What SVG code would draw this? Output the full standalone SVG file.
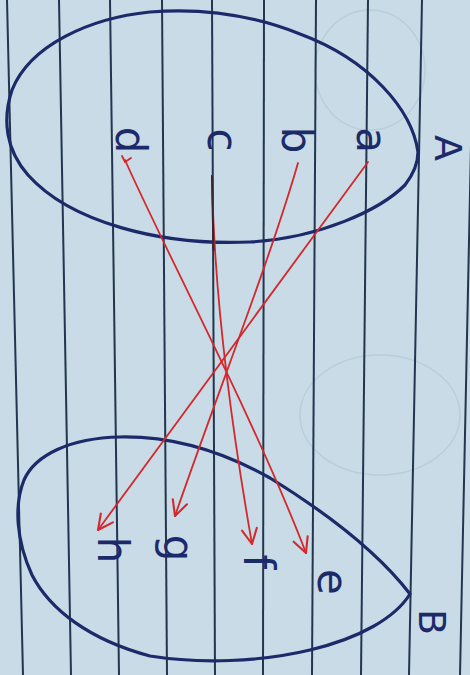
<svg xmlns="http://www.w3.org/2000/svg" width="470" height="675" viewBox="0 0 470 675">
  <style>
    .rule { stroke: #22364f; stroke-width: 2; fill: none; }
    .ghost { stroke: #a9bccb; stroke-width: 1.5; fill: none; opacity: 0.45; }
    .set { stroke: #1c2a6a; stroke-width: 3.2; fill: none; stroke-linecap: round; stroke-linejoin: round; }
    .lbl { font-family: "DejaVu Sans", "Liberation Sans", sans-serif; font-size: 42px; fill: #1c2a6a; text-anchor: middle; dominant-baseline: central; }
    .cap { font-size: 38px; }
    .edge { stroke: #d3282c; stroke-width: 1.8; fill: none; stroke-linecap: round; }
  </style>
  <defs>
    <marker id="arrow" viewBox="0 0 12 12" refX="11" refY="6" markerWidth="18" markerHeight="18" markerUnits="userSpaceOnUse" orient="auto">
      <path d="M1,1 L11,6 L1,11" fill="none" stroke="#d3282c" stroke-width="1.4" stroke-linecap="round" stroke-linejoin="round"/>
    </marker>
  </defs>

  <rect width="470" height="675" fill="#c8dbe6"/>

  <g id="paper">
    <ellipse class="ghost" cx="380" cy="415" rx="80" ry="60"/>
    <ellipse class="ghost" cx="370" cy="70" rx="55" ry="60"/>
    <line class="rule" x1="7" y1="0" x2="23" y2="675"/>
    <line class="rule" x1="59" y1="0" x2="71" y2="675"/>
    <line class="rule" x1="110" y1="0" x2="119" y2="675"/>
    <line class="rule" x1="162" y1="0" x2="167" y2="675"/>
    <line class="rule" x1="212" y1="0" x2="215" y2="675"/>
    <line class="rule" x1="264" y1="0" x2="263" y2="675"/>
    <line class="rule" x1="316" y1="0" x2="312" y2="675"/>
    <line class="rule" x1="368" y1="0" x2="361" y2="675"/>
    <line class="rule" x1="422" y1="0" x2="409" y2="675"/>
    <line class="rule" x1="474" y1="0" x2="460" y2="675"/>
  </g>

  <g id="setA">
    <path class="set" d="M418,152 C412,110 370,60 300,34 C250,14 200,8 150,12 C90,18 30,45 12,90 C2,120 6,150 28,175 C70,222 160,246 250,242 C320,238 380,210 405,185 C415,172 418,160 418,152 Z"/>
    <text class="lbl" transform="rotate(90 130 140)" x="130" y="140">d</text>
    <text class="lbl" transform="rotate(90 222 140)" x="222" y="140">c</text>
    <text class="lbl" transform="rotate(90 296 140)" x="296" y="140">b</text>
    <text class="lbl" transform="rotate(90 371 140)" x="371" y="140">a</text>
    <text class="lbl cap" transform="rotate(90 448 148)" x="448" y="148">A</text>
  </g>

  <g id="setB">
    <path class="set" d="M410,594 C380,555 330,515 270,478 C220,450 170,436 120,437 C70,438 35,455 24,480 C14,505 16,540 32,575 C50,610 90,640 150,656 C200,664 260,662 310,650 C360,638 395,618 410,594 Z"/>
    <text class="lbl" transform="rotate(90 112 550)" x="112" y="550">h</text>
    <text class="lbl" transform="rotate(90 178 548)" x="178" y="548">g</text>
    <text class="lbl" transform="rotate(90 258 562)" x="258" y="562">f</text>
    <text class="lbl" transform="rotate(90 332 582)" x="332" y="582">e</text>
    <text class="lbl cap" transform="rotate(90 432 622)" x="432" y="622">B</text>
  </g>

  <g id="connectors">
    <path class="edge" d="M368,162 L98,530" marker-end="url(#arrow)"/>
    <path class="edge" d="M298,163 C270,260 215,400 175,516" marker-end="url(#arrow)"/>
    <path class="edge" d="M212,176 C214,300 232,430 252,544" marker-end="url(#arrow)"/>
    <path d="M212,176 C212.5,200 213,225 213.5,250" stroke="#3a2530" stroke-width="2" fill="none" stroke-linecap="round"/>
    <path class="edge" d="M125,160 C165,250 255,420 306,553" marker-end="url(#arrow)"/>
    <path class="edge" d="M122,156 L125,162 L131,158"/>
  </g>
</svg>
